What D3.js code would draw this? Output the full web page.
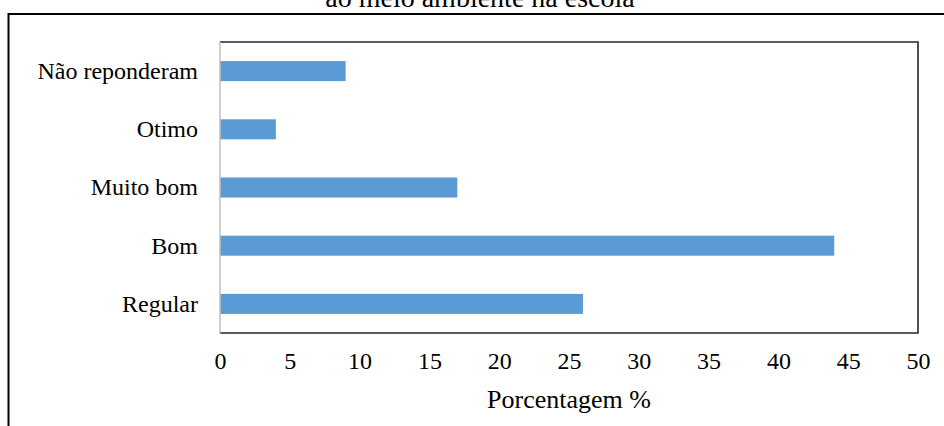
<!DOCTYPE html>
<html><head><meta charset="utf-8">
<script src="https://cdn.jsdelivr.net/npm/d3@7"></script>
<style>html,body{margin:0;padding:0;background:#fff;}svg{display:block;}</style>
</head><body>
<svg id="c" width="944" height="426"></svg>
<script>
const categories = ["Não reponderam", "Otimo", "Muito bom", "Bom", "Regular"];
const values = [9, 4, 17, 44, 26];
const xTicks = [0, 5, 10, 15, 20, 25, 30, 35, 40, 45, 50];
const titleText = "ao meio ambiente na escola";
const xAxisTitle = "Porcentagem %";

const svg = d3.select("#c");
const font = "'Liberation Serif', 'Times New Roman', serif";
const m = {left: 220, right: 918, top: 42, bottom: 333};

// outer frame
svg.append("rect").attr("x", 8.5).attr("y", 14).attr("width", 1000).attr("height", 1000)
  .attr("fill", "none").attr("stroke", "#000").attr("stroke-width", 2);

// title (cut at top, as in the reference)
svg.append("text").attr("x", 480).attr("y", 7).attr("text-anchor", "middle")
  .attr("font-family", font).attr("font-size", 28).attr("fill", "#000").text(titleText);

const x = d3.scaleLinear().domain([0, 50]).range([m.left, m.right]);
const y = d3.scaleBand().domain(categories).range([m.top, m.bottom])
  .paddingInner(0.656).paddingOuter(0.328);

// bars
svg.append("g").selectAll("rect").data(categories).join("rect")
  .attr("x", x(0)).attr("y", d => y(d))
  .attr("width", (d, i) => x(values[i]) - x(0))
  .attr("height", y.bandwidth())
  .attr("fill", "#5b9bd5");

// plot frame: top/right/bottom dark, left light gray
const fr = svg.append("g").attr("fill", "none");
fr.append("path").attr("d", `M${m.left},${m.top}H${m.right}V${m.bottom}H${m.left}`)
  .attr("stroke", "#262626").attr("stroke-width", 1.6);
fr.append("line").attr("x1", m.left).attr("x2", m.left).attr("y1", m.top).attr("y2", m.bottom)
  .attr("stroke", "#bfbfbf").attr("stroke-width", 1.5);

// x axis tick labels
const xa = d3.axisBottom(x).tickValues(xTicks).tickSize(0).tickPadding(0);
const gx = svg.append("g").attr("transform", `translate(0,${m.bottom})`).call(xa);
gx.select(".domain").remove();
gx.selectAll("text").attr("font-family", font).attr("font-size", 24).attr("fill", "#000")
  .attr("dy", null).attr("y", 36);

// y axis labels
const ya = d3.axisLeft(y).tickSize(0).tickPadding(22);
const gy = svg.append("g").attr("transform", `translate(${m.left},0)`).call(ya);
gy.select(".domain").remove();
gy.selectAll("text").attr("font-family", font).attr("font-size", 24).attr("fill", "#000")
  .attr("dy", "0.33em");

// axis title
svg.append("text").attr("x", 569).attr("y", 408).attr("text-anchor", "middle")
  .attr("font-family", font).attr("font-size", 26).attr("fill", "#000").text(xAxisTitle);
</script>
</body></html>
